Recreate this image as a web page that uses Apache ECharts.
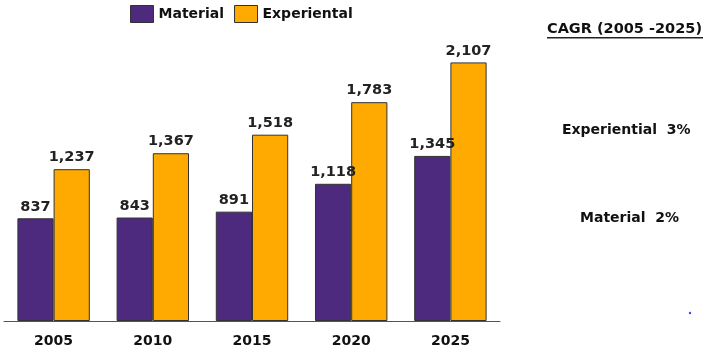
<!DOCTYPE html>
<html><head><meta charset="utf-8">
<script src="https://cdn.jsdelivr.net/npm/echarts@6/dist/echarts.min.js"></script>
<style>html,body{margin:0;padding:0;background:#fff}#c{width:704px;height:352px}</style>
</head><body><div id="c"></div>
<script>
const categories = ['2005','2010','2015','2020','2025'];
const material = [837, 843, 891, 1118, 1345];
const experiential = [1237, 1367, 1518, 1783, 2107];
const cagrTitle = 'CAGR (2005 -2025)';
const cagrExperiential = 'Experiential  3%';
const cagrMaterial = 'Material  2%';

const F = 'DejaVu Sans, Verdana, sans-serif';
const chart = echarts.init(document.getElementById('c'), null, {renderer:'canvas'});
const lbl = {show:true, position:'top', distance:4, color:'#222', fontFamily:F, fontWeight:'bold', fontSize:14.5,
  formatter: p => p.value.toLocaleString('en-US')};
chart.setOption({
  animation:false,
  legend:{left:130, top:5, padding:0, itemWidth:23, itemHeight:17, itemGap:10, icon:'rect',
    textStyle:{fontFamily:F, fontWeight:'bold', fontSize:14, color:'#111'},
    itemStyle:{borderColor:'#333', borderWidth:1}},
  grid:{left:4, right:204, top:51, bottom:31},
  xAxis:{type:'category', data:categories,
    axisLine:{lineStyle:{color:'#555', width:1}}, axisTick:{show:false},
    axisLabel:{fontFamily:F, fontWeight:'bold', fontSize:14, color:'#111', margin:13}},
  yAxis:{type:'value', min:0, max:2200, show:false, splitLine:{show:false}},
  series:[
    {name:'Material', type:'bar', data:material, barGap:'0%', barCategoryGap:'27%',
      itemStyle:{color:'#4e2a7e', borderColor:'#333', borderWidth:1}, label:lbl},
    {name:'Experiental', type:'bar', data:experiential,
      itemStyle:{color:'#ffaa00', borderColor:'#333', borderWidth:1}, label:lbl}
  ],
  graphic:[
    {type:'text', left:547, top:22, style:{text:cagrTitle, fontFamily:F, fontWeight:'bold', fontSize:14.5, fill:'#111'}},
    {type:'rect', shape:{x:547, y:37, width:156, height:1.5}, style:{fill:'#222'}},
    {type:'text', left:562, top:123, style:{text:cagrExperiential, fontFamily:F, fontWeight:'bold', fontSize:14, fill:'#111'}},
    {type:'text', left:580, top:211, style:{text:cagrMaterial, fontFamily:F, fontWeight:'bold', fontSize:14, fill:'#111'}},
    {type:'circle', shape:{cx:690, cy:313, r:1.2}, style:{fill:'#3344ff'}}
  ]
});
</script></body></html>
